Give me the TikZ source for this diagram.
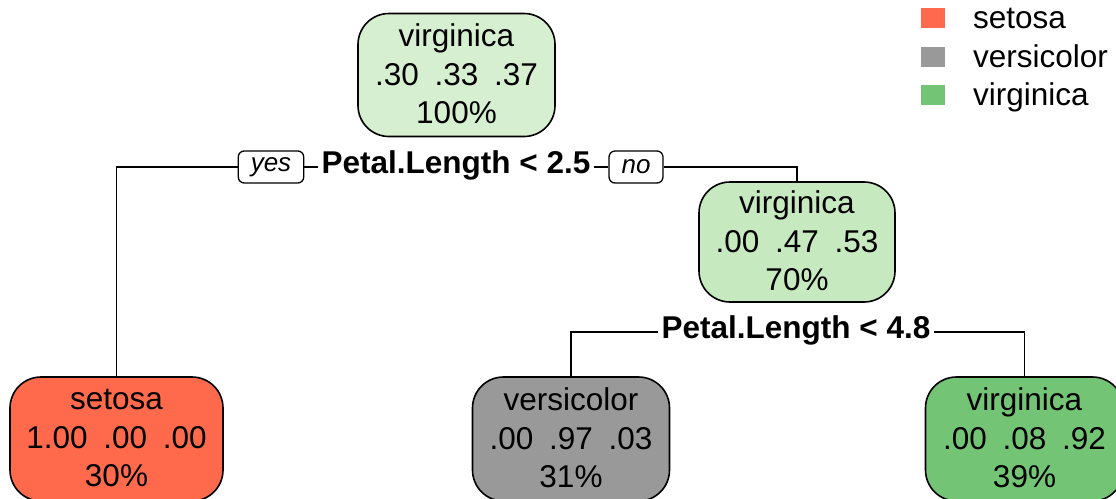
\documentclass[tikz,border=0pt]{standalone}
\usepackage{fontspec}
\setmainfont{Liberation Sans}
\definecolor{cSetosa}{HTML}{FF6A4D}
\definecolor{cVersi}{HTML}{999999}
\definecolor{cVirg}{HTML}{74C476}
\definecolor{cRoot}{HTML}{D7EFD1}
\definecolor{cMid}{HTML}{C7E9C0}
\newcommand{\boxfont}{\fontsize{31.5}{38.5}\selectfont}
\newcommand{\tagfont}{\fontsize{26}{30}\selectfont\itshape}
\tikzset{
  treebox/.style={draw, line width=1.6pt, rounded corners=31pt, inner sep=0pt,
    align=center, font=\boxfont, text depth=2pt},
  splitlabel/.style={font=\boxfont\bfseries, inner xsep=3pt, inner ysep=0pt, anchor=base},
  tagbox/.style={draw, line width=1.3pt, rounded corners=6pt, font=\tagfont,
    inner xsep=12.5pt, inner ysep=0pt, minimum height=32pt},
  wire/.style={line width=1.6pt},
  legendsq/.style={inner sep=0pt, minimum width=24pt, minimum height=20pt, anchor=south west},
  legendtxt/.style={font=\boxfont, inner sep=0pt, anchor=base west}
}
\begin{document}
\begin{tikzpicture}[x=1pt, y=-1pt]
\useasboundingbox (0,0) rectangle (1116,498);
\clip (0,0) rectangle (1116,498);

% tree nodes
\node[treebox, fill=cRoot, minimum width=197pt, minimum height=123pt] (root) at (456.5,75)
  {virginica\\.30\enspace.33\enspace.37\\100\%};
\node[treebox, fill=cMid, minimum width=196pt, minimum height=120pt] (mid) at (797,242)
  {virginica\\.00\enspace.47\enspace.53\\70\%};
\node[treebox, fill=cSetosa, minimum width=213pt, minimum height=124pt] (setosa) at (116.5,439)
  {setosa\\1.00\enspace.00\enspace.00\\30\%};
\node[treebox, fill=cVersi, minimum width=197pt, minimum height=124pt] (versi) at (571,439)
  {versicolor\\.00\enspace.97\enspace.03\\31\%};
\node[treebox, fill=cVirg, minimum width=198pt, minimum height=124pt] (virg) at (1024.5,439)
  {virginica\\.00\enspace.08\enspace.92\\39\%};

% split labels
\node[splitlabel] (s1) at (456,173) {Petal.Length < 2.5};
\node[splitlabel] (s2) at (796,338) {Petal.Length < 4.8};
\coordinate (j1) at (456,168);
\coordinate (j2) at (796,332);

% yes / no tags
\node[tagbox] (yes) at (271,167) {yes};
\node[tagbox] (no) at (636,167) {no};

% connectors
\draw[wire] (yes.west) -| (setosa.north);
\draw[wire] (yes.east) -- (s1.west |- yes.east);
\draw[wire] (s1.east |- no.west) -- (no.west);
\draw[wire] (no.east) -| (mid.north);
\draw[wire] (s2.west |- j2) -| (versi.north);
\draw[wire] (s2.east |- j2) -| (virg.north);

% legend
\node[legendsq, fill=cSetosa] (k1) at (921,28) {};
\node[legendsq, fill=cVersi] (k2) at (921,67) {};
\node[legendsq, fill=cVirg] (k3) at (921,105) {};
\node[legendtxt] (t1) at (973,28) {setosa};
\node[legendtxt] (t2) at (973,67) {versicolor};
\node[legendtxt] (t3) at (973,105) {virginica};
\end{tikzpicture}
\end{document}
